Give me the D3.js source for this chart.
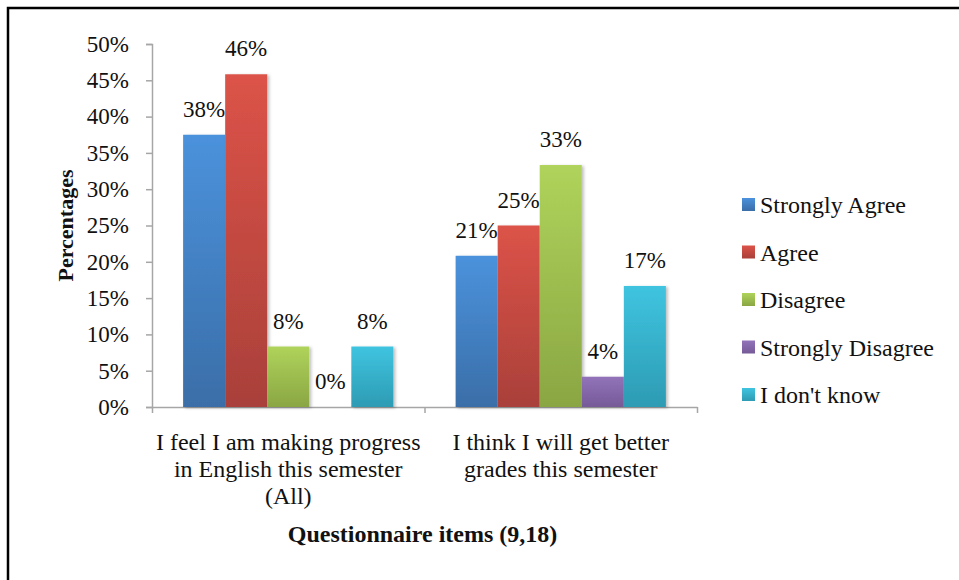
<!DOCTYPE html>
<html>
<head>
<meta charset="utf-8">
<script src="https://cdn.jsdelivr.net/npm/d3@7"></script>
<style>
  body { margin: 0; background: #fff; }
  svg text { font-family: "Liberation Serif", "Times New Roman", serif; fill: #111; }
</style>
</head>
<body>
<div id="chart"></div>
<script>
// data (percent)
const categories = ["item9", "item18"];
const categoryLines = [
    ["I feel I am making progress", "in English this semester", "(All)"],
    ["I think I will get better", "grades this semester"]
];
const seriesNames = ["Strongly Agree", "Agree", "Disagree", "Strongly Disagree", "I don't know"];
const stronglyAgree = [37.5, 20.83];
const agree = [45.83, 25];
const disagree = [8.33, 33.33];
const stronglyDisagree = [0, 4.17];
const dontKnow = [8.33, 16.67];
const yTicks = [0, 5, 10, 15, 20, 25, 30, 35, 40, 45, 50];

const seriesValues = [stronglyAgree, agree, disagree, stronglyDisagree, dontKnow];

// gradient colours (top, bottom)
const colorTop = ["#4b92dc", "#dc5348", "#afd35b", "#9273ba", "#3fc4e0"];
const colorBottom = ["#3a6ea8", "#a9403a", "#8aa643", "#755a97", "#2d9bb3"];

const W = 959, H = 580;
const plot = { left: 152, right: 697, top: 44, bottom: 407 };

const svg = d3.select("#chart")
    .append("svg")
    .attr("width", W)
    .attr("height", H);

const defs = svg.append("defs");
seriesNames.forEach((s, i) => {
    const g = defs.append("linearGradient")
        .attr("id", "grad" + i)
        .attr("x1", 0).attr("y1", 0).attr("x2", 0).attr("y2", 1);
    g.append("stop").attr("offset", "0%").attr("stop-color", colorTop[i]);
    g.append("stop").attr("offset", "100%").attr("stop-color", colorBottom[i]);
});
defs.append("filter")
    .attr("id", "shadow")
    .attr("x", "-20%").attr("y", "-20%").attr("width", "150%").attr("height", "150%")
    .append("feDropShadow")
    .attr("dx", 2).attr("dy", 1).attr("stdDeviation", 1.5)
    .attr("flood-color", "#000").attr("flood-opacity", 0.25);

// outer frame
svg.append("rect")
    .attr("x", 8).attr("y", 8)
    .attr("width", W + 20).attr("height", H + 20)
    .attr("fill", "none")
    .attr("stroke", "#000")
    .attr("stroke-width", 2.5);

// scales
const x0 = d3.scaleBand()
    .domain(categories)
    .range([plot.left, plot.right])
    .padding(0);

const x1 = d3.scaleBand()
    .domain(seriesNames)
    .range([0, x0.bandwidth()])
    .paddingInner(0)
    .paddingOuter(0.74);

const y = d3.scaleLinear()
    .domain([0, 50])
    .range([plot.bottom, plot.top]);

// Y axis
const yAxis = svg.append("g")
    .attr("transform", `translate(${plot.left},0)`)
    .call(d3.axisLeft(y).tickValues(yTicks).tickSize(6).tickPadding(17).tickFormat(d => d + "%"));
yAxis.selectAll("path, line").attr("stroke", "#a6a6a6").attr("stroke-width", 1.5);
yAxis.selectAll("text")
    .style("font-size", "23px")
    .style("font-family", "'Liberation Serif', 'Times New Roman', serif")
    .attr("fill", "#111");

// X axis (category separators as ticks)
const xAxis = svg.append("g")
    .attr("transform", `translate(0,${plot.bottom})`)
    .call(d3.axisBottom(d3.scaleLinear().domain([0, 2]).range([plot.left, plot.right]))
        .tickValues([0, 1, 2]).tickSize(6).tickSizeOuter(0).tickFormat(""));
xAxis.selectAll("path, line").attr("stroke", "#a6a6a6").attr("stroke-width", 1.5);

// bars
const groups = svg.selectAll(".cat")
    .data(categories)
    .join("g")
    .attr("class", "cat")
    .attr("transform", d => `translate(${x0(d)},0)`);

groups.selectAll("rect")
    .data((c, ci) => seriesNames.map((s, si) => ({ s, si, v: seriesValues[si][ci] })))
    .join("rect")
    .attr("x", d => x1(d.s))
    .attr("y", d => y(d.v))
    .attr("width", x1.bandwidth())
    .attr("height", d => y(0) - y(d.v))
    .attr("fill", d => `url(#grad${d.si})`)
    .attr("filter", "url(#shadow)");

groups.selectAll(".lbl")
    .data((c, ci) => seriesNames.map((s, si) => ({ s, si, v: seriesValues[si][ci] })))
    .join("text")
    .attr("class", "lbl")
    .attr("x", d => x1(d.s) + x1.bandwidth() / 2)
    .attr("y", d => y(d.v) - 18)
    .attr("text-anchor", "middle")
    .style("font-size", "23px")
    .text(d => Math.round(d.v) + "%");

// category labels
categories.forEach((c, ci) => {
    const t = svg.append("text")
        .attr("text-anchor", "middle")
        .attr("x", x0(c) + x0.bandwidth() / 2)
        .attr("y", 450)
        .style("font-size", "24px");
    categoryLines[ci].forEach((line, li) => {
        t.append("tspan")
            .attr("x", x0(c) + x0.bandwidth() / 2)
            .attr("dy", li === 0 ? 0 : 27)
            .text(line);
    });
});

// axis titles
svg.append("text")
    .attr("text-anchor", "middle")
    .attr("x", (plot.left + plot.right) / 2 - 2)
    .attr("y", 542)
    .style("font-size", "24px")
    .style("font-weight", "bold")
    .text("Questionnaire items (9,18)");

svg.append("text")
    .attr("text-anchor", "middle")
    .attr("transform", `translate(73,${(plot.top + plot.bottom) / 2}) rotate(-90)`)
    .style("font-size", "22px")
    .style("font-weight", "bold")
    .text("Percentages");

// legend
const legend = svg.append("g")
    .attr("transform", "translate(742,205)")
    .selectAll("g")
    .data(seriesNames)
    .join("g")
    .attr("transform", (d, i) => `translate(0,${i * 47.5})`);

legend.append("rect")
    .attr("x", 0)
    .attr("y", -7)
    .attr("width", 13)
    .attr("height", 13)
    .attr("fill", (d, i) => `url(#grad${i})`);

legend.append("text")
    .attr("x", 18)
    .attr("y", 8)
    .style("font-size", "24px")
    .text(d => d);
</script>
</body>
</html>
